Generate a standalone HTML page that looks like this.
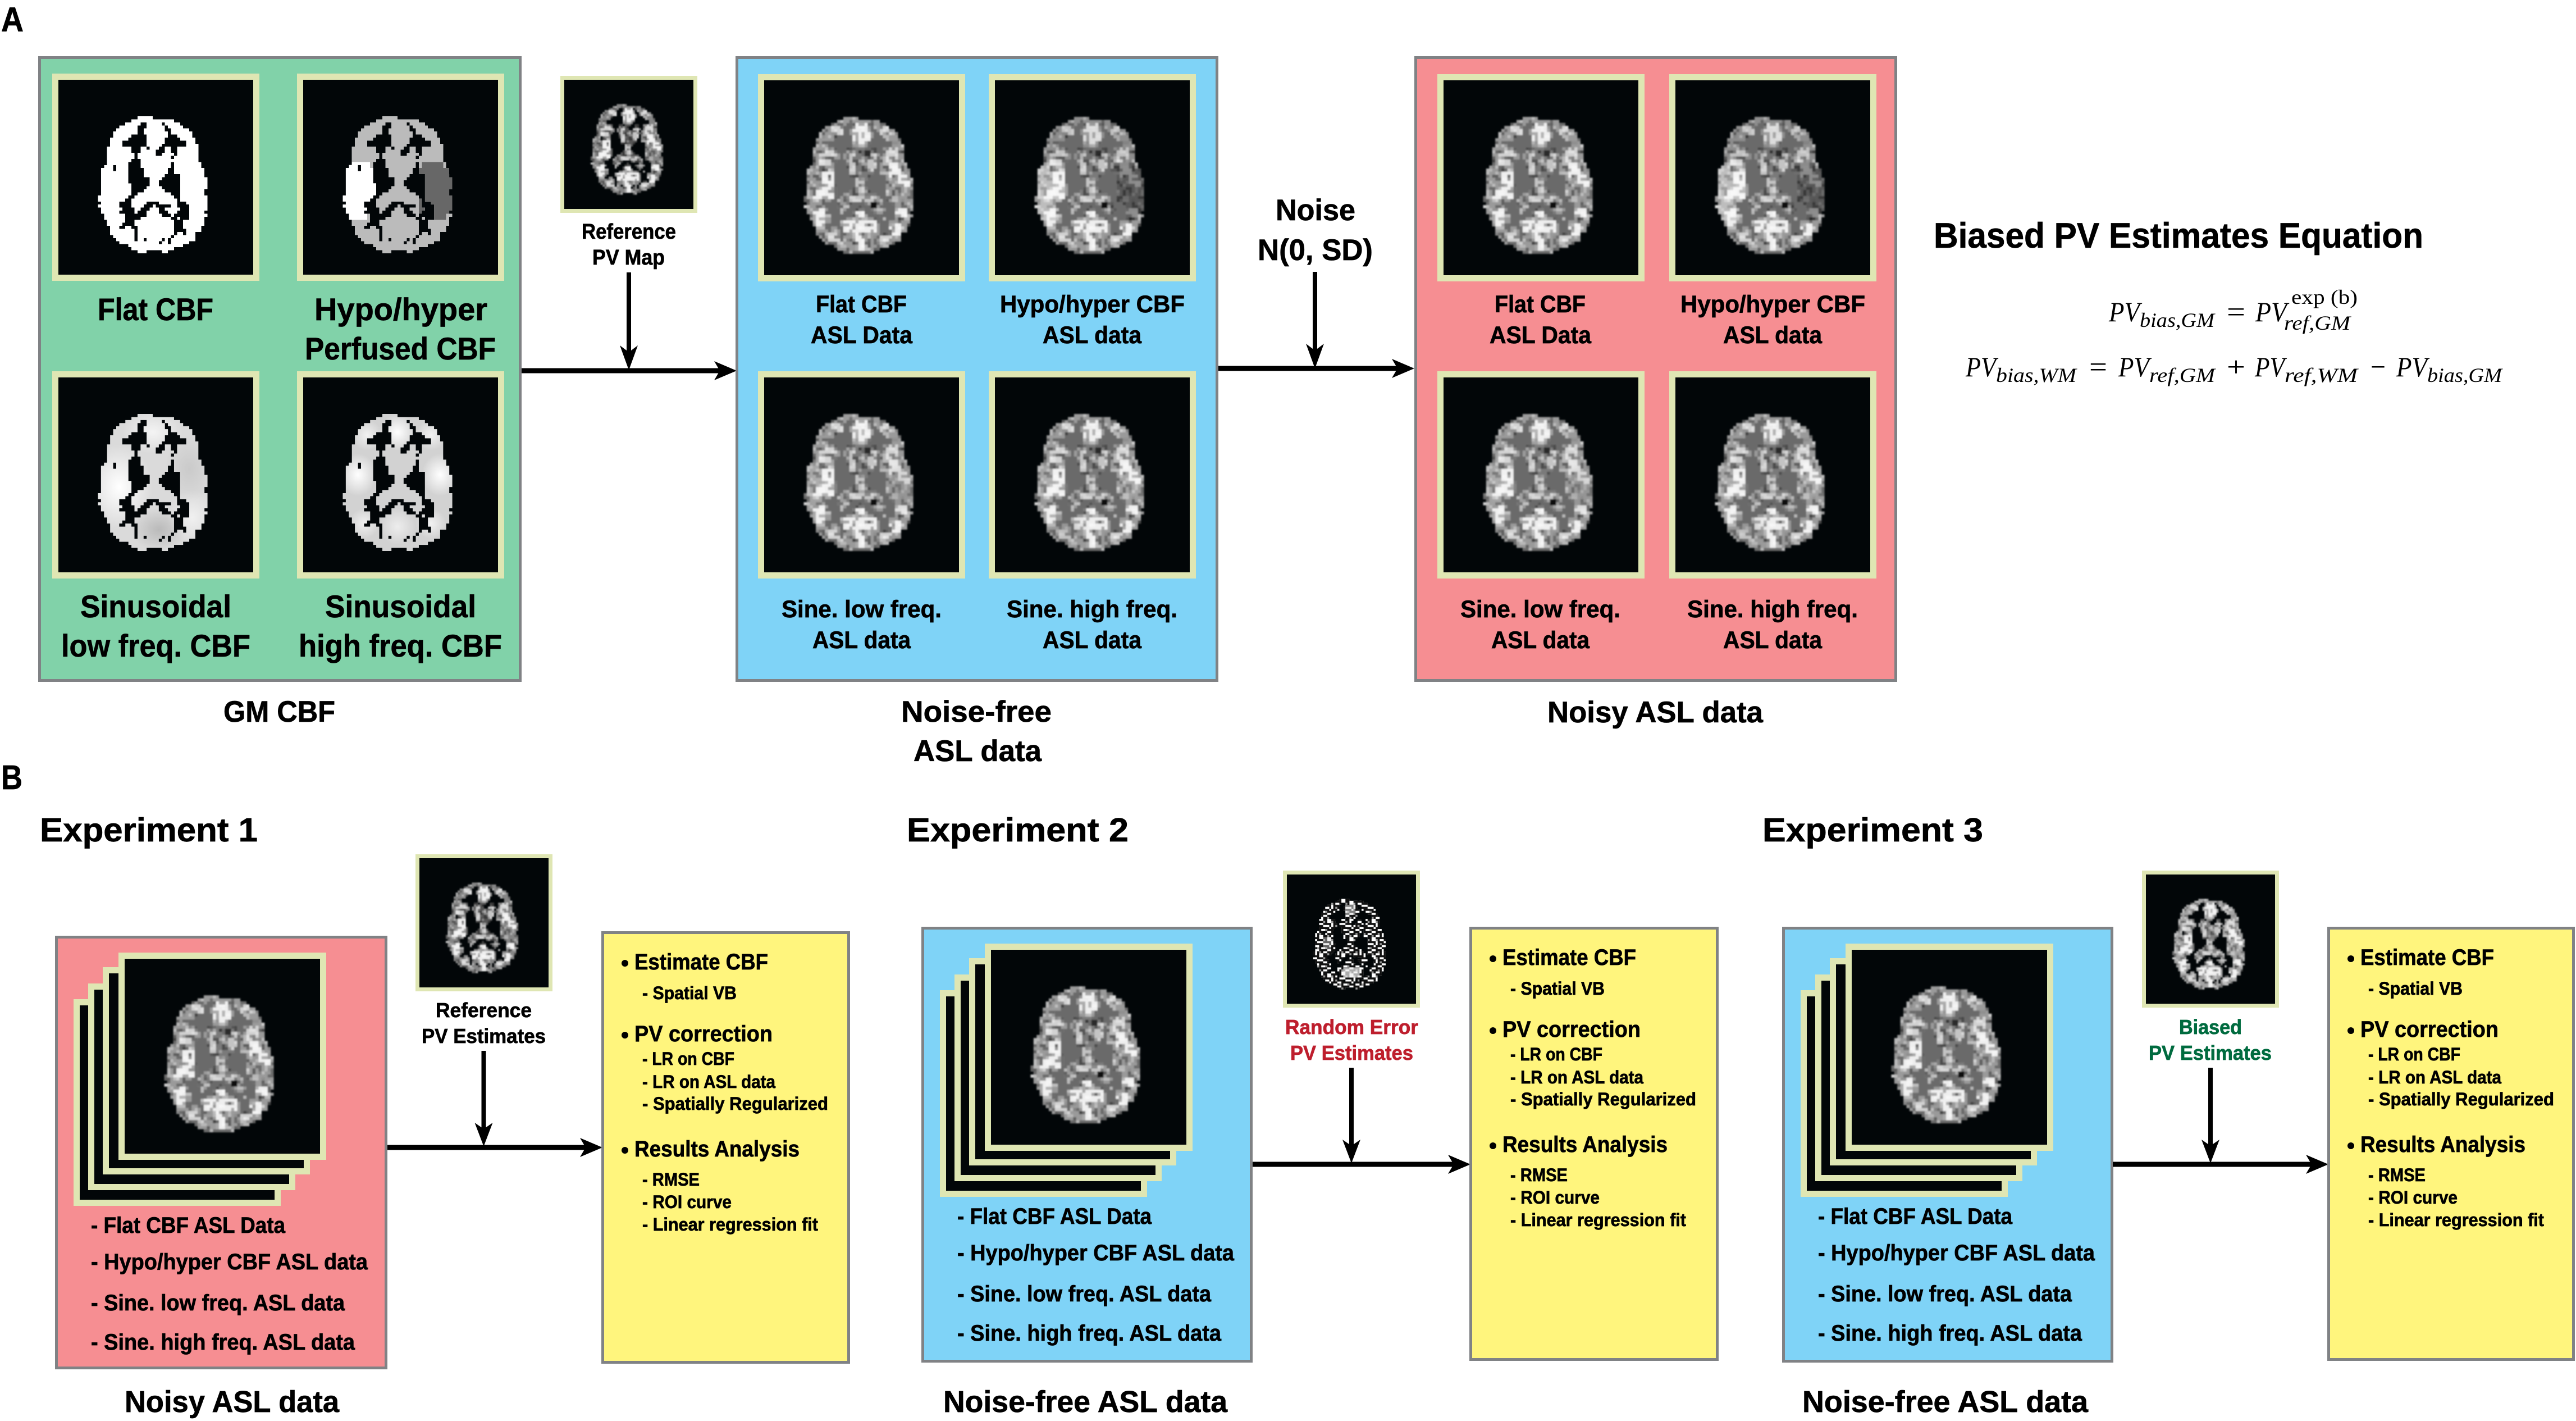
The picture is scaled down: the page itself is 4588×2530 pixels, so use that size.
<!DOCTYPE html>
<html><head><meta charset="utf-8"><title>ASL partial volume correction diagram</title>
<style>
html,body{margin:0;padding:0;background:#fff}
svg{display:block}
text{font-family:"Liberation Sans",Arial,sans-serif;font-weight:700;fill:#000;stroke:#000;stroke-width:.7}
.m{font-family:"Liberation Serif",serif;font-weight:400;font-style:italic;stroke:none}
.u{font-family:"Liberation Serif",serif;font-weight:400;font-style:normal;stroke:none}
.b{stroke:#808285;stroke-width:5}
</style></head><body>
<svg xmlns="http://www.w3.org/2000/svg" width="4588" height="2530" viewBox="0 0 4588 2530">
<defs>
<path id="mk" d="M26 12H31V13H26zM24 13H38V14H24zM22 14H27V15H22zM29 14H34V15H29zM35 14H40V15H35zM20 15H26V16H20zM29 15H35V16H29zM36 15H41V16H36zM19 16H26V17H19zM28 16H35V17H28zM37 16H43V17H37zM18 17H26V18H18zM28 17H36V18H28zM37 17H44V18H37zM18 18H24V19H18zM29 18H36V19H29zM39 18H44V19H39zM17 19H23V20H17zM29 19H35V20H29zM40 19H45V20H40zM17 20H21V21H17zM29 20H35V21H29zM42 20H45V21H42zM17 21H21V22H17zM29 21H34V22H29zM42 21H46V22H42zM16 22H24V23H16zM27 22H29V23H27zM30 22H33V23H30zM35 22H37V23H35zM39 22H46V23H39zM16 23H24V24H16zM27 23H32V24H27zM35 23H37V24H35zM39 23H46V24H39zM16 24H25V25H16zM26 24H32V25H26zM34 24H38V25H34zM39 24H46V25H39zM16 25H25V26H16zM26 25H37V26H26zM38 25H46V26H38zM16 26H24V27H16zM27 26H46V27H27zM16 27H23V28H16zM27 27H37V28H27zM38 27H47V28H38zM15 28H18V29H15zM19 28H23V29H19zM27 28H37V29H27zM38 28H47V29H38zM14 29H18V30H14zM19 29H23V30H19zM28 29H36V30H28zM38 29H48V30H38zM14 30H23V31H14zM28 30H36V31H28zM38 30H48V31H38zM14 31H23V32H14zM28 31H35V32H28zM40 31H48V32H40zM14 32H23V33H14zM30 32H34V33H30zM40 32H49V33H40zM14 33H23V34H14zM30 33H33V34H30zM40 33H49V34H40zM14 34H24V35H14zM30 34H33V35H30zM40 34H49V35H40zM14 35H24V36H14zM29 35H34V36H29zM40 35H49V36H40zM14 36H24V37H14zM28 36H35V37H28zM40 36H48V37H40zM14 37H24V38H14zM26 37H37V38H26zM40 37H48V38H40zM13 38H23V39H13zM25 38H38V39H25zM40 38H49V39H40zM13 39H22V40H13zM24 39H39V40H24zM40 39H49V40H40zM14 40H20V41H14zM24 40H29V41H24zM33 40H39V41H33zM42 40H49V41H42zM13 41H20V42H13zM24 41H28V42H24zM31 41H32V42H31zM37 41H39V42H37zM43 41H49V42H43zM14 42H21V43H14zM25 42H27V43H25zM30 42H33V43H30zM35 42H40V43H35zM43 42H49V43H43zM14 43H20V44H14zM25 43H26V44H25zM29 43H33V44H29zM36 43H39V44H36zM43 43H48V44H43zM15 44H22V45H15zM29 44H34V45H29zM37 44H38V45H37zM43 44H49V45H43zM15 45H22V46H15zM27 45H37V46H27zM39 45H40V46H39zM43 45H48V46H43zM16 46H22V47H16zM25 46H38V47H25zM41 46H48V47H41zM16 47H21V48H16zM25 47H38V48H25zM41 47H48V48H41zM17 48H20V49H17zM22 48H24V49H22zM26 48H38V49H26zM41 48H47V49H41zM17 49H25V50H17zM26 49H38V50H26zM42 49H47V50H42zM17 50H25V51H17zM26 50H38V51H26zM39 50H41V51H39zM42 50H45V51H42zM18 51H25V52H18zM26 51H37V52H26zM38 51H45V52H38zM19 52H25V53H19zM26 52H28V53H26zM29 52H34V53H29zM35 52H36V53H35zM37 52H45V53H37zM20 53H33V54H20zM34 53H36V54H34zM37 53H43V54H37zM23 54H41V55H23zM24 55H38V56H24zM26 56H29V57H26zM34 56H36V57H34z"/>
<path id="sil" d="M26 12H31V13H26zM24 13H38V14H24zM22 14H40V15H22zM20 15H41V16H20zM19 16H43V17H19zM18 17H44V19H18zM17 19H45V21H17zM17 21H46V22H17zM16 22H46V27H16zM16 27H47V28H16zM15 28H47V29H15zM14 29H48V32H14zM14 32H49V38H14zM13 38H49V40H13zM14 40H49V41H14zM13 41H49V42H13zM14 42H49V43H14zM14 43H48V44H14zM15 44H49V45H15zM15 45H48V46H15zM16 46H48V48H16zM17 48H47V50H17zM17 50H45V51H17zM18 51H45V52H18zM19 52H45V53H19zM20 53H43V54H20zM23 54H41V55H23zM24 55H38V56H24zM26 56H36V57H26z"/>
<clipPath id="cm"><use href="#mk"/></clipPath>
<filter id="soft" x="-5%" y="-5%" width="110%" height="110%"><feGaussianBlur stdDeviation="0.26"/></filter>
<radialGradient id="rw"><stop offset="0" stop-color="#fff"/><stop offset="1" stop-color="#fff" stop-opacity="0"/></radialGradient>
<radialGradient id="rg"><stop offset="0" stop-color="#8a8a8a"/><stop offset="1" stop-color="#8a8a8a" stop-opacity="0"/></radialGradient>
<pattern id="noise" patternUnits="userSpaceOnUse" width="13" height="11">
<g fill="#000" fill-opacity=".38"><rect x="1" y="0" width="1" height="1"/><rect x="5" y="1" width="2" height="1"/><rect x="10" y="0" width="1" height="2"/><rect x="3" y="3" width="1" height="2"/><rect x="8" y="3" width="2" height="1"/><rect x="12" y="4" width="1" height="1"/><rect x="0" y="6" width="2" height="1"/><rect x="6" y="6" width="1" height="2"/><rect x="10" y="7" width="2" height="1"/><rect x="3" y="9" width="2" height="1"/><rect x="8" y="9" width="1" height="2"/></g>
<g fill="#fff" fill-opacity=".35"><rect x="3" y="1" width="1" height="1"/><rect x="7" y="0" width="2" height="1"/><rect x="12" y="2" width="1" height="1"/><rect x="1" y="3" width="1" height="2"/><rect x="5" y="4" width="2" height="1"/><rect x="10" y="5" width="1" height="1"/><rect x="3" y="6" width="2" height="1"/><rect x="8" y="7" width="1" height="1"/><rect x="0" y="8" width="2" height="1"/><rect x="11" y="9" width="2" height="1"/><rect x="6" y="10" width="1" height="1"/></g>
</pattern>
<pattern id="noise3" patternUnits="userSpaceOnUse" width="7" height="9">
<g fill="#000" fill-opacity=".3"><rect x="2" y="0" width="1" height="2"/><rect x="5" y="2" width="2" height="1"/><rect x="0" y="4" width="1" height="1"/><rect x="3" y="5" width="2" height="1"/><rect x="6" y="7" width="1" height="1"/><rect x="1" y="8" width="2" height="1"/></g>
<g fill="#fff" fill-opacity=".3"><rect x="4" y="0" width="2" height="1"/><rect x="0" y="2" width="2" height="1"/><rect x="3" y="3" width="1" height="1"/><rect x="6" y="5" width="1" height="1"/><rect x="1" y="6" width="1" height="1"/><rect x="4" y="7" width="1" height="2"/></g>
</pattern>
<pattern id="noise2" patternUnits="userSpaceOnUse" width="11" height="9">
<rect width="11" height="9" fill="#111"/>
<g fill="#fff"><rect x="1" y="0" width="2" height="1"/><rect x="6" y="0" width="2" height="1"/><rect x="9" y="1" width="2" height="1"/><rect x="3" y="1" width="2" height="1"/><rect x="3" y="2" width="1" height="2"/><rect x="7" y="2" width="2" height="1"/><rect x="0" y="3" width="2" height="1"/><rect x="5" y="3" width="2" height="2"/><rect x="9" y="4" width="2" height="2"/><rect x="2" y="5" width="2" height="1"/><rect x="0" y="6" width="1" height="2"/><rect x="4" y="6" width="3" height="1"/><rect x="7" y="7" width="3" height="1"/><rect x="3" y="8" width="2" height="1"/><rect x="10" y="8" width="1" height="1"/></g>
<g fill="#999"><rect x="4" y="0" width="1" height="1"/><rect x="8" y="0" width="1" height="1"/><rect x="1" y="2" width="1" height="1"/><rect x="5" y="2" width="1" height="1"/><rect x="9" y="3" width="1" height="1"/><rect x="7" y="5" width="1" height="1"/><rect x="2" y="7" width="1" height="1"/><rect x="0" y="5" width="1" height="1"/></g>
</pattern>
<path id="central" d="M27 22H37V45H27z"/>
<g id="bright">
<g fill="#efefef"><rect x="29" y="16" width="6" height="5"/><rect x="30" y="14" width="4" height="2"/><rect x="26" y="46" width="11" height="4"/><rect x="30" y="43" width="3" height="14"/><rect x="19" y="30" width="4" height="7"/><rect x="16" y="36" width="7" height="3"/><rect x="16" y="42" width="4" height="6"/><rect x="43" y="42" width="4" height="3"/><rect x="41" y="47" width="4" height="4"/><rect x="41" y="27" width="4" height="5"/><rect x="44" y="31" width="4" height="4"/></g>
<g fill="#d2d2d2"><rect x="22" y="15" width="4" height="3"/><rect x="38" y="15" width="4" height="3"/><rect x="40" y="22" width="4" height="5"/><rect x="18" y="23" width="6" height="2"/><rect x="18" y="26" width="4" height="2"/><rect x="21" y="50" width="4" height="3"/><rect x="38" y="51" width="4" height="2"/></g>
<g fill="#c4c4c4"><rect x="28" y="24" width="2" height="7"/><rect x="34" y="24" width="3" height="6"/><rect x="30" y="32" width="3" height="5"/><rect x="27" y="38" width="9" height="2"/></g>
</g>
<g id="tex"><g clip-path="url(#cm)"><rect x="13" y="12" width="36" height="45" fill="#9a9a9a"/><use href="#central" fill="#7a7a7a"/><use href="#bright"/><rect x="13" y="12" width="36" height="45" fill="url(#noise)"/><rect x="13" y="12" width="36" height="45" fill="url(#noise3)"/></g></g>
<g id="asl"><use href="#sil" fill="#6a6a6a"/><use href="#tex"/><rect x="35" y="40" width="2" height="2" fill="#0a0a0a"/><rect x="33" y="23" width="2" height="2" fill="#2a2a2a"/></g>
<g id="aslHyper"><use href="#asl"/><g clip-path="url(#cm)"><path d="M15 27H22V29H24V44H21V46H15V44H13V29H15z" fill="#fff" fill-opacity=".35"/><path d="M39 27H46V29H48V31H49V44H47V46H41V44H38V29H39z" fill="#000" fill-opacity=".42"/><path d="M14 12H49V26H14z" fill="#000" fill-opacity=".08"/></g></g>
<g id="aslLow"><use href="#asl"/><g clip-path="url(#cm)"><ellipse cx="20" cy="34" rx="10" ry="12" fill="url(#rw)" fill-opacity=".25"/><ellipse cx="31" cy="18" rx="8" ry="7" fill="url(#rw)" fill-opacity=".15"/><ellipse cx="45" cy="36" rx="8" ry="12" fill="url(#rg)" fill-opacity=".4"/></g></g>
<g id="aslHigh"><use href="#asl"/><g clip-path="url(#cm)"><ellipse cx="19" cy="34" rx="7" ry="8" fill="url(#rw)" fill-opacity=".25"/><ellipse cx="45" cy="34" rx="6" ry="8" fill="url(#rw)" fill-opacity=".2"/><ellipse cx="24" cy="50" rx="7" ry="6" fill="url(#rg)" fill-opacity=".4"/></g></g>
<g id="pv"><g clip-path="url(#cm)"><rect x="13" y="12" width="36" height="45" fill="#858585"/><use href="#central" fill="#555"/><use href="#bright"/><rect x="13" y="12" width="36" height="45" fill="url(#noise)"/><rect x="13" y="12" width="36" height="45" fill="url(#noise3)"/></g></g>
<g id="pvb"><g clip-path="url(#cm)"><rect x="13" y="12" width="36" height="45" fill="#a4a4a4"/><use href="#central" fill="#808080"/><use href="#bright"/><rect x="13" y="12" width="36" height="45" fill="url(#noise)"/><rect x="13" y="12" width="36" height="45" fill="url(#noise3)"/></g></g>
<g id="rand"><g clip-path="url(#cm)"><rect x="13" y="12" width="36" height="45" fill="url(#noise2)"/><rect x="28" y="46" width="8" height="5" fill="#eee" fill-opacity=".7"/><rect x="29" y="15" width="5" height="5" fill="#ddd" fill-opacity=".55"/><rect x="18" y="31" width="4" height="6" fill="#ddd" fill-opacity=".4"/></g></g>
</defs>
<rect width="4588" height="2530" fill="#fff"/>

<!-- PANEL A -->
<text x="2" y="56" font-size="61" textLength="40" lengthAdjust="spacingAndGlyphs">A</text>
<text x="2" y="1405" font-size="61" textLength="38" lengthAdjust="spacingAndGlyphs">B</text>

<!-- green box -->
<rect x="70.500" y="102.500" width="856" height="1109" fill="#81d2a9" class="b"/>
<g fill="#dfe6b3"><rect x="93" y="131" width="369" height="369"/><rect x="529" y="131" width="369" height="369"/><rect x="93" y="661" width="369" height="369"/><rect x="529" y="661" width="369" height="369"/></g>
<g fill="#020608"><rect x="104" y="142" width="347" height="347"/><rect x="540" y="142" width="347" height="347"/><rect x="104" y="672" width="347" height="347"/><rect x="540" y="672" width="347" height="347"/></g>
<g transform="translate(104,142) scale(5.42)" shape-rendering="crispEdges"><use href="#mk" fill="#fff"/></g>
<g transform="translate(540,142) scale(5.42)" shape-rendering="crispEdges"><use href="#mk" fill="#bbb"/><g clip-path="url(#cm)"><path d="M15 27H22V29H24V44H21V46H15V44H13V29H15z" fill="#fff"/><path d="M39 27H46V29H48V31H49V44H47V46H41V44H38V29H39z" fill="#676767"/></g></g>
<g transform="translate(104,672) scale(5.42)"><use href="#mk" fill="#dadada"/><g clip-path="url(#cm)"><ellipse cx="20" cy="36" rx="11" ry="14" fill="url(#rw)"/><ellipse cx="31" cy="18" rx="10" ry="7" fill="url(#rw)" fill-opacity=".7"/><ellipse cx="43" cy="30" rx="8" ry="11" fill="url(#rg)" fill-opacity=".2"/><ellipse cx="33" cy="50" rx="9" ry="7" fill="url(#rg)" fill-opacity=".4"/><ellipse cx="44" cy="46" rx="8" ry="9" fill="url(#rw)" fill-opacity=".6"/></g></g>
<g transform="translate(540,672) scale(5.42)"><use href="#mk" fill="#d2d2d2"/><g clip-path="url(#cm)"><ellipse cx="18" cy="32" rx="6" ry="7" fill="url(#rw)"/><ellipse cx="45" cy="32" rx="6" ry="7" fill="url(#rw)"/><ellipse cx="31" cy="18" rx="6" ry="6" fill="url(#rw)"/><ellipse cx="31" cy="49" rx="6" ry="6" fill="url(#rw)" fill-opacity=".6"/><ellipse cx="21" cy="19" rx="5" ry="5" fill="url(#rw)" fill-opacity=".7"/><ellipse cx="42" cy="19" rx="5" ry="5" fill="url(#rw)" fill-opacity=".7"/><ellipse cx="20" cy="48" rx="5" ry="5" fill="url(#rw)" fill-opacity=".7"/><ellipse cx="42" cy="48" rx="5" ry="5" fill="url(#rw)" fill-opacity=".7"/></g></g>
<g font-size="56">
<text x="174" y="570" textLength="206" lengthAdjust="spacingAndGlyphs">Flat CBF</text>
<text x="560" y="570" textLength="308" lengthAdjust="spacingAndGlyphs">Hypo/hyper</text>
<text x="543" y="640" textLength="340" lengthAdjust="spacingAndGlyphs">Perfused CBF</text>
<text x="143" y="1099" textLength="269" lengthAdjust="spacingAndGlyphs">Sinusoidal</text>
<text x="109" y="1169" textLength="337" lengthAdjust="spacingAndGlyphs">low freq. CBF</text>
<text x="579" y="1099" textLength="269" lengthAdjust="spacingAndGlyphs">Sinusoidal</text>
<text x="532" y="1169" textLength="362" lengthAdjust="spacingAndGlyphs">high freq. CBF</text>
</g>
<text x="398" y="1285" font-size="53" textLength="199" lengthAdjust="spacingAndGlyphs">GM CBF</text>

<!-- reference PV -->
<rect x="998" y="135" width="244" height="244" fill="#dfe6b3"/><rect x="1005" y="142" width="230" height="230" fill="#020608"/>
<g transform="translate(1005,142) scale(3.594)" filter="url(#soft)"><use href="#pv"/></g>
<text x="1036" y="425" font-size="38" textLength="168" lengthAdjust="spacingAndGlyphs">Reference</text>
<text x="1055" y="471" font-size="38" textLength="129" lengthAdjust="spacingAndGlyphs">PV Map</text>

<!-- arrows A -->
<path d="M929 660H1285" stroke="#000" stroke-width="9"/><polygon points="1312,660 1272,643 1282,660 1272,677"/>
<path d="M1120 485V630" stroke="#000" stroke-width="8"/><polygon points="1120,659 1104,615 1120,627 1136,615"/>
<path d="M2170 656H2492" stroke="#000" stroke-width="9"/><polygon points="2519,656 2479,639 2489,656 2479,673"/>
<path d="M2342 484V628" stroke="#000" stroke-width="8"/><polygon points="2342,656 2326,612 2342,624 2358,612"/>
<text x="2272" y="392" font-size="53" textLength="142" lengthAdjust="spacingAndGlyphs">Noise</text>
<text x="2240" y="463" font-size="53" textLength="205" lengthAdjust="spacingAndGlyphs">N(0, SD)</text>

<!-- blue box -->
<rect x="1312.500" y="102.500" width="855" height="1109" fill="#7fd3f7" class="b"/>
<g fill="#dfe6b3"><rect x="1350" y="132" width="369" height="369"/><rect x="1761" y="132" width="369" height="369"/><rect x="1350" y="661" width="369" height="369"/><rect x="1761" y="661" width="369" height="369"/></g>
<g fill="#020608"><rect x="1361" y="143" width="347" height="347"/><rect x="1772" y="143" width="347" height="347"/><rect x="1361" y="672" width="347" height="347"/><rect x="1772" y="672" width="347" height="347"/></g>
<g filter="url(#soft)" transform="translate(1361,143) scale(5.42)"><use href="#asl"/></g>
<g filter="url(#soft)" transform="translate(1772,143) scale(5.42)"><use href="#aslHyper"/></g>
<g filter="url(#soft)" transform="translate(1361,672) scale(5.42)"><use href="#aslLow"/></g>
<g filter="url(#soft)" transform="translate(1772,672) scale(5.42)"><use href="#aslHigh"/></g>
<g font-size="43">
<text x="1453" y="556" textLength="162" lengthAdjust="spacingAndGlyphs">Flat CBF</text>
<text x="1444" y="611" textLength="181" lengthAdjust="spacingAndGlyphs">ASL Data</text>
<text x="1781" y="556" textLength="329" lengthAdjust="spacingAndGlyphs">Hypo/hyper CBF</text>
<text x="1857" y="611" textLength="176" lengthAdjust="spacingAndGlyphs">ASL data</text>
<text x="1392" y="1099" textLength="285" lengthAdjust="spacingAndGlyphs">Sine. low freq.</text>
<text x="1447" y="1154" textLength="175" lengthAdjust="spacingAndGlyphs">ASL data</text>
<text x="1793" y="1099" textLength="304" lengthAdjust="spacingAndGlyphs">Sine. high freq.</text>
<text x="1857" y="1154" textLength="176" lengthAdjust="spacingAndGlyphs">ASL data</text>
</g>
<text x="1605" y="1285" font-size="53" textLength="268" lengthAdjust="spacingAndGlyphs">Noise-free</text>
<text x="1627" y="1355" font-size="53" textLength="228" lengthAdjust="spacingAndGlyphs">ASL data</text>

<!-- pink box -->
<rect x="2521.500" y="102.500" width="855" height="1109" fill="#f68e92" class="b"/>
<g fill="#dfe6b3"><rect x="2560" y="132" width="369" height="369"/><rect x="2973" y="132" width="369" height="369"/><rect x="2560" y="661" width="369" height="369"/><rect x="2973" y="661" width="369" height="369"/></g>
<g fill="#020608"><rect x="2571" y="143" width="347" height="347"/><rect x="2984" y="143" width="347" height="347"/><rect x="2571" y="672" width="347" height="347"/><rect x="2984" y="672" width="347" height="347"/></g>
<g filter="url(#soft)" transform="translate(2571,143) scale(5.42)"><use href="#asl"/></g>
<g filter="url(#soft)" transform="translate(2984,143) scale(5.42)"><use href="#aslHyper"/></g>
<g filter="url(#soft)" transform="translate(2571,672) scale(5.42)"><use href="#aslLow"/></g>
<g filter="url(#soft)" transform="translate(2984,672) scale(5.42)"><use href="#aslHigh"/></g>
<g font-size="43">
<text x="2662" y="556" textLength="162" lengthAdjust="spacingAndGlyphs">Flat CBF</text>
<text x="2653" y="611" textLength="181" lengthAdjust="spacingAndGlyphs">ASL Data</text>
<text x="2993" y="556" textLength="329" lengthAdjust="spacingAndGlyphs">Hypo/hyper CBF</text>
<text x="3069" y="611" textLength="176" lengthAdjust="spacingAndGlyphs">ASL data</text>
<text x="2601" y="1099" textLength="285" lengthAdjust="spacingAndGlyphs">Sine. low freq.</text>
<text x="2656" y="1154" textLength="175" lengthAdjust="spacingAndGlyphs">ASL data</text>
<text x="3005" y="1099" textLength="304" lengthAdjust="spacingAndGlyphs">Sine. high freq.</text>
<text x="3069" y="1154" textLength="176" lengthAdjust="spacingAndGlyphs">ASL data</text>
</g>
<text x="2756" y="1286" font-size="53" textLength="384" lengthAdjust="spacingAndGlyphs">Noisy ASL data</text>

<!-- equation -->
<text x="3444" y="441" font-size="63" textLength="872" lengthAdjust="spacingAndGlyphs">Biased PV Estimates Equation</text>
<text class="m" x="3756" y="572" font-size="50" textLength="55" lengthAdjust="spacingAndGlyphs">PV</text>
<text class="m" x="3811" y="582" font-size="36" textLength="133" lengthAdjust="spacingAndGlyphs">bias,GM</text>
<text class="u" x="3966" y="572" font-size="50" textLength="33" lengthAdjust="spacingAndGlyphs">=</text>
<text class="m" x="4017" y="572" font-size="50" textLength="56" lengthAdjust="spacingAndGlyphs">PV</text>
<text class="u" x="4081" y="541" font-size="36" textLength="118" lengthAdjust="spacingAndGlyphs">exp (b)</text>
<text class="m" x="4068" y="587" font-size="36" textLength="118" lengthAdjust="spacingAndGlyphs">ref,GM</text>
<text class="m" x="3501" y="670" font-size="50" textLength="54" lengthAdjust="spacingAndGlyphs">PV</text>
<text class="m" x="3555" y="680" font-size="36" textLength="143" lengthAdjust="spacingAndGlyphs">bias,WM</text>
<text class="u" x="3721" y="670" font-size="50" textLength="32" lengthAdjust="spacingAndGlyphs">=</text>
<text class="m" x="3773" y="670" font-size="50" textLength="55" lengthAdjust="spacingAndGlyphs">PV</text>
<text class="m" x="3828" y="680" font-size="36" textLength="117" lengthAdjust="spacingAndGlyphs">ref,GM</text>
<text class="u" x="3966" y="670" font-size="50" textLength="33" lengthAdjust="spacingAndGlyphs">+</text>
<text class="m" x="4016" y="670" font-size="50" textLength="53" lengthAdjust="spacingAndGlyphs">PV</text>
<text class="m" x="4069" y="680" font-size="36" textLength="130" lengthAdjust="spacingAndGlyphs">ref,WM</text>
<text class="u" x="4222" y="670" font-size="50" textLength="27" lengthAdjust="spacingAndGlyphs">−</text>
<text class="m" x="4268" y="670" font-size="50" textLength="55" lengthAdjust="spacingAndGlyphs">PV</text>
<text class="m" x="4323" y="680" font-size="36" textLength="133" lengthAdjust="spacingAndGlyphs">bias,GM</text>

<!-- PANEL B titles -->
<text x="71" y="1498" font-size="59" textLength="388" lengthAdjust="spacingAndGlyphs">Experiment 1</text>
<text x="1615" y="1498" font-size="59" textLength="395" lengthAdjust="spacingAndGlyphs">Experiment 2</text>
<text x="3139" y="1498" font-size="59" textLength="393" lengthAdjust="spacingAndGlyphs">Experiment 3</text>

<!-- Experiment 1 left -->
<g>
<rect x="100.500" y="1668.500" width="587" height="767" fill="#f68e92" class="b"/>
<rect x="131" y="1779" width="369" height="368" fill="#dfe6b3"/><rect x="142" y="1790" width="347" height="346" fill="#020608"/>
<rect x="157" y="1751" width="369" height="368" fill="#dfe6b3"/><rect x="168" y="1762" width="347" height="346" fill="#020608"/>
<rect x="183" y="1722" width="369" height="369" fill="#dfe6b3"/><rect x="194" y="1733" width="347" height="347" fill="#020608"/>
<rect x="211" y="1696" width="370" height="369" fill="#dfe6b3"/><rect x="222" y="1707" width="348" height="347" fill="#020608"/>
<g filter="url(#soft)" transform="translate(222,1707) scale(5.42)"><use href="#asl"/></g>
<g font-size="40">
<text x="162" y="2195" textLength="346" lengthAdjust="spacingAndGlyphs">- Flat CBF ASL Data</text>
<text x="162" y="2260" textLength="493" lengthAdjust="spacingAndGlyphs">- Hypo/hyper CBF ASL data</text>
<text x="162" y="2333" textLength="452" lengthAdjust="spacingAndGlyphs">- Sine. low freq. ASL data</text>
<text x="162" y="2403" textLength="470" lengthAdjust="spacingAndGlyphs">- Sine. high freq. ASL data</text>
</g>
</g>
<text x="222" y="2514" font-size="54" textLength="382" lengthAdjust="spacingAndGlyphs">Noisy ASL data</text>

<!-- Experiment 2 left -->
<g transform="translate(1543,-16)">
<rect x="100.500" y="1668.500" width="585" height="771" fill="#7fd3f7" class="b"/>
<rect x="131" y="1779" width="369" height="368" fill="#dfe6b3"/><rect x="142" y="1790" width="347" height="346" fill="#020608"/>
<rect x="157" y="1751" width="369" height="368" fill="#dfe6b3"/><rect x="168" y="1762" width="347" height="346" fill="#020608"/>
<rect x="183" y="1722" width="369" height="369" fill="#dfe6b3"/><rect x="194" y="1733" width="347" height="347" fill="#020608"/>
<rect x="211" y="1696" width="370" height="369" fill="#dfe6b3"/><rect x="222" y="1707" width="348" height="347" fill="#020608"/>
<g filter="url(#soft)" transform="translate(222,1707) scale(5.42)"><use href="#asl"/></g>
<g font-size="40">
<text x="162" y="2195" textLength="346" lengthAdjust="spacingAndGlyphs">- Flat CBF ASL Data</text>
<text x="162" y="2260" textLength="493" lengthAdjust="spacingAndGlyphs">- Hypo/hyper CBF ASL data</text>
<text x="162" y="2333" textLength="452" lengthAdjust="spacingAndGlyphs">- Sine. low freq. ASL data</text>
<text x="162" y="2403" textLength="470" lengthAdjust="spacingAndGlyphs">- Sine. high freq. ASL data</text>
</g>
</g>
<text x="1680" y="2514" font-size="54" textLength="506" lengthAdjust="spacingAndGlyphs">Noise-free ASL data</text>

<!-- Experiment 3 left -->
<g transform="translate(3076,-16)">
<rect x="100.500" y="1668.500" width="585" height="771" fill="#7fd3f7" class="b"/>
<rect x="131" y="1779" width="369" height="368" fill="#dfe6b3"/><rect x="142" y="1790" width="347" height="346" fill="#020608"/>
<rect x="157" y="1751" width="369" height="368" fill="#dfe6b3"/><rect x="168" y="1762" width="347" height="346" fill="#020608"/>
<rect x="183" y="1722" width="369" height="369" fill="#dfe6b3"/><rect x="194" y="1733" width="347" height="347" fill="#020608"/>
<rect x="211" y="1696" width="370" height="369" fill="#dfe6b3"/><rect x="222" y="1707" width="348" height="347" fill="#020608"/>
<g filter="url(#soft)" transform="translate(222,1707) scale(5.42)"><use href="#asl"/></g>
<g font-size="40">
<text x="162" y="2195" textLength="346" lengthAdjust="spacingAndGlyphs">- Flat CBF ASL Data</text>
<text x="162" y="2260" textLength="493" lengthAdjust="spacingAndGlyphs">- Hypo/hyper CBF ASL data</text>
<text x="162" y="2333" textLength="452" lengthAdjust="spacingAndGlyphs">- Sine. low freq. ASL data</text>
<text x="162" y="2403" textLength="470" lengthAdjust="spacingAndGlyphs">- Sine. high freq. ASL data</text>
</g>
</g>
<text x="3210" y="2514" font-size="54" textLength="509" lengthAdjust="spacingAndGlyphs">Noise-free ASL data</text>

<!-- small PV frames -->
<rect x="740" y="1521" width="244" height="244" fill="#dfe6b3"/><rect x="747" y="1528" width="230" height="230" fill="#020608"/>
<g filter="url(#soft)" transform="translate(747,1528) scale(3.594)"><use href="#pv"/></g>
<text x="776" y="1811" font-size="36" textLength="171" lengthAdjust="spacingAndGlyphs">Reference</text>
<text x="751" y="1857" font-size="36" textLength="221" lengthAdjust="spacingAndGlyphs">PV Estimates</text>

<rect x="2285" y="1550" width="244" height="244" fill="#dfe6b3"/><rect x="2292" y="1557" width="230" height="230" fill="#020608"/>
<g transform="translate(2292,1557) scale(3.594)" shape-rendering="crispEdges"><use href="#rand"/></g>
<text x="2289" y="1841" font-size="36" textLength="237" lengthAdjust="spacingAndGlyphs" style="fill:#be1e2d;stroke:#be1e2d">Random Error</text>
<text x="2298" y="1887" font-size="36" textLength="219" lengthAdjust="spacingAndGlyphs" style="fill:#be1e2d;stroke:#be1e2d">PV Estimates</text>

<rect x="3815" y="1550" width="244" height="244" fill="#dfe6b3"/><rect x="3822" y="1557" width="230" height="230" fill="#020608"/>
<g filter="url(#soft)" transform="translate(3822,1557) scale(3.594)"><use href="#pvb"/></g>
<text x="3881" y="1841" font-size="36" textLength="112" lengthAdjust="spacingAndGlyphs" style="fill:#006b3f;stroke:#006b3f">Biased</text>
<text x="3827" y="1887" font-size="36" textLength="219" lengthAdjust="spacingAndGlyphs" style="fill:#006b3f;stroke:#006b3f">PV Estimates</text>

<!-- arrows B -->
<path d="M690 2043H1044" stroke="#000" stroke-width="9"/><polygon points="1073,2043 1033,2026 1043,2043 1033,2060"/>
<path d="M861.500 1871V2012" stroke="#000" stroke-width="8"/><polygon points="861.500,2041 845.500,1999 861.500,2010 877.500,1999"/>
<path d="M2231 2073H2590" stroke="#000" stroke-width="9"/><polygon points="2619,2073 2579,2056 2589,2073 2579,2090"/>
<path d="M2407 1901V2042" stroke="#000" stroke-width="8"/><polygon points="2407,2071 2391,2029 2407,2040 2423,2029"/>
<path d="M3763 2073H4118" stroke="#000" stroke-width="9"/><polygon points="4147,2073 4107,2056 4117,2073 4107,2090"/>
<path d="M3937 1901V2042" stroke="#000" stroke-width="8"/><polygon points="3937,2071 3921,2029 3937,2040 3953,2029"/>

<!-- yellow boxes -->
<rect x="1073.500" y="1660.500" width="438" height="765" fill="#fff57d" class="b"/>
<g>
<g font-size="40"><circle cx="1113" cy="1715" r="6"/><text x="1130" y="1726" textLength="238" lengthAdjust="spacingAndGlyphs">Estimate CBF</text>
<circle cx="1113" cy="1843" r="6"/><text x="1130" y="1854" textLength="246" lengthAdjust="spacingAndGlyphs">PV correction</text>
<circle cx="1113" cy="2048" r="6"/><text x="1130" y="2059" textLength="294" lengthAdjust="spacingAndGlyphs">Results Analysis</text></g>
<g font-size="32"><text x="1144" y="1779" textLength="168" lengthAdjust="spacingAndGlyphs">- Spatial VB</text>
<text x="1144" y="1896" textLength="164" lengthAdjust="spacingAndGlyphs">- LR on CBF</text>
<text x="1144" y="1937" textLength="237" lengthAdjust="spacingAndGlyphs">- LR on ASL data</text>
<text x="1144" y="1976" textLength="331" lengthAdjust="spacingAndGlyphs">- Spatially Regularized</text>
<text x="1144" y="2111" textLength="102" lengthAdjust="spacingAndGlyphs">- RMSE</text>
<text x="1144" y="2151" textLength="159" lengthAdjust="spacingAndGlyphs">- ROI curve</text>
<text x="1144" y="2191" textLength="313" lengthAdjust="spacingAndGlyphs">- Linear regression fit</text></g>
</g>
<rect x="2619.500" y="1652.500" width="439" height="768" fill="#fff57d" class="b"/>
<g transform="translate(1546,-8)">
<g font-size="40"><circle cx="1113" cy="1715" r="6"/><text x="1130" y="1726" textLength="238" lengthAdjust="spacingAndGlyphs">Estimate CBF</text>
<circle cx="1113" cy="1843" r="6"/><text x="1130" y="1854" textLength="246" lengthAdjust="spacingAndGlyphs">PV correction</text>
<circle cx="1113" cy="2048" r="6"/><text x="1130" y="2059" textLength="294" lengthAdjust="spacingAndGlyphs">Results Analysis</text></g>
<g font-size="32"><text x="1144" y="1779" textLength="168" lengthAdjust="spacingAndGlyphs">- Spatial VB</text>
<text x="1144" y="1896" textLength="164" lengthAdjust="spacingAndGlyphs">- LR on CBF</text>
<text x="1144" y="1937" textLength="237" lengthAdjust="spacingAndGlyphs">- LR on ASL data</text>
<text x="1144" y="1976" textLength="331" lengthAdjust="spacingAndGlyphs">- Spatially Regularized</text>
<text x="1144" y="2111" textLength="102" lengthAdjust="spacingAndGlyphs">- RMSE</text>
<text x="1144" y="2151" textLength="159" lengthAdjust="spacingAndGlyphs">- ROI curve</text>
<text x="1144" y="2191" textLength="313" lengthAdjust="spacingAndGlyphs">- Linear regression fit</text></g>
</g>
<rect x="4147.500" y="1652.500" width="436" height="768" fill="#fff57d" class="b"/>
<g transform="translate(3074,-8)">
<g font-size="40"><circle cx="1113" cy="1715" r="6"/><text x="1130" y="1726" textLength="238" lengthAdjust="spacingAndGlyphs">Estimate CBF</text>
<circle cx="1113" cy="1843" r="6"/><text x="1130" y="1854" textLength="246" lengthAdjust="spacingAndGlyphs">PV correction</text>
<circle cx="1113" cy="2048" r="6"/><text x="1130" y="2059" textLength="294" lengthAdjust="spacingAndGlyphs">Results Analysis</text></g>
<g font-size="32"><text x="1144" y="1779" textLength="168" lengthAdjust="spacingAndGlyphs">- Spatial VB</text>
<text x="1144" y="1896" textLength="164" lengthAdjust="spacingAndGlyphs">- LR on CBF</text>
<text x="1144" y="1937" textLength="237" lengthAdjust="spacingAndGlyphs">- LR on ASL data</text>
<text x="1144" y="1976" textLength="331" lengthAdjust="spacingAndGlyphs">- Spatially Regularized</text>
<text x="1144" y="2111" textLength="102" lengthAdjust="spacingAndGlyphs">- RMSE</text>
<text x="1144" y="2151" textLength="159" lengthAdjust="spacingAndGlyphs">- ROI curve</text>
<text x="1144" y="2191" textLength="313" lengthAdjust="spacingAndGlyphs">- Linear regression fit</text></g>
</g>
</svg>
</body></html>
